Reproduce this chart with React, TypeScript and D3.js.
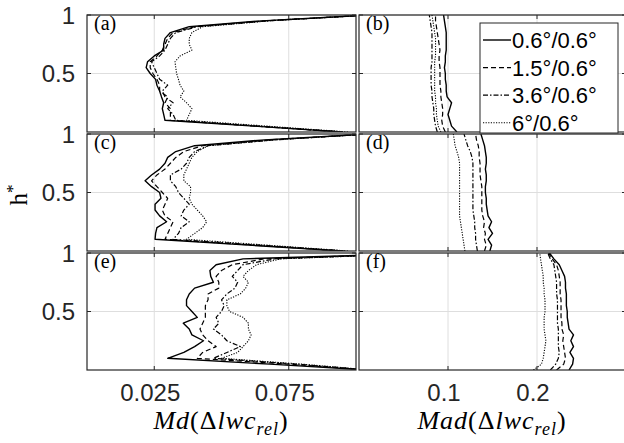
import React, { useRef, useEffect } from "react";
import * as d3 from "d3";

const W = 624;
const H = 443;

// normalized height levels (h*) shared by every profile
const hStar = [0, 0.05, 0.1, 0.15, 0.2, 0.25, 0.3, 0.35, 0.4, 0.45, 0.5, 0.55, 0.6, 0.65, 0.7, 0.75, 0.8, 0.85, 0.9, 0.95, 1];

const seriesLabels = ["0.6°/0.6°", "1.5°/0.6°", "3.6°/0.6°", "6°/0.6°"];
const seriesDash = ["none", "5,3", "5,2,1.5,2", "1.2,1.4"];
const seriesWidth = [1.4, 1.2, 1.2, 1.1];

const mdTicks = [0.025, 0.075];
const madTicks = [0.1, 0.2];
const hTicks = [0.5, 1];
const panelTags = ["(a)", "(b)", "(c)", "(d)", "(e)", "(f)"];

// Md(Δlwc_rel) profiles, rows = series
const mdA = [
  [0.095, 0.062, 0.029, 0.0285, 0.028, 0.0285, 0.0277, 0.027, 0.026, 0.0255, 0.0235, 0.022, 0.0225, 0.025, 0.0285, 0.0285, 0.029, 0.031, 0.038, 0.065, 0.105],
  [0.095, 0.063, 0.031, 0.031, 0.031, 0.029, 0.030, 0.027, 0.027, 0.026, 0.0245, 0.0235, 0.0235, 0.026, 0.028, 0.029, 0.030, 0.032, 0.040, 0.066, 0.105],
  [0.095, 0.064, 0.033, 0.032, 0.030, 0.032, 0.029, 0.028, 0.030, 0.027, 0.026, 0.025, 0.024, 0.027, 0.029, 0.030, 0.031, 0.033, 0.041, 0.067, 0.105],
  [0.097, 0.067, 0.037, 0.038, 0.039, 0.037, 0.0346, 0.036, 0.0346, 0.034, 0.0333, 0.033, 0.0327, 0.0346, 0.039, 0.038, 0.038, 0.039, 0.043, 0.068, 0.105],
];
const mdC = [
  [0.095, 0.060, 0.0253, 0.0255, 0.026, 0.0296, 0.027, 0.0253, 0.0253, 0.0275, 0.027, 0.024, 0.0216, 0.024, 0.027, 0.029, 0.030, 0.033, 0.040, 0.066, 0.105],
  [0.095, 0.062, 0.029, 0.030, 0.031, 0.032, 0.029, 0.028, 0.029, 0.030, 0.028, 0.026, 0.024, 0.026, 0.029, 0.031, 0.033, 0.036, 0.043, 0.068, 0.105],
  [0.096, 0.064, 0.032, 0.034, 0.035, 0.038, 0.035, 0.036, 0.038, 0.036, 0.034, 0.033, 0.031, 0.031, 0.035, 0.037, 0.038, 0.040, 0.045, 0.070, 0.105],
  [0.097, 0.067, 0.037, 0.040, 0.043, 0.0445, 0.043, 0.041, 0.039, 0.038, 0.0385, 0.0385, 0.036, 0.036, 0.037, 0.038, 0.039, 0.041, 0.045, 0.070, 0.105],
];
const mdE = [
  [0.105, 0.068, 0.030, 0.036, 0.040, 0.0433, 0.039, 0.038, 0.0358, 0.041, 0.039, 0.037, 0.037, 0.038, 0.040, 0.047, 0.046, 0.0457, 0.048, 0.058, 0.13],
  [0.105, 0.075, 0.041, 0.043, 0.048, 0.045, 0.043, 0.042, 0.043, 0.044, 0.044, 0.044, 0.045, 0.045, 0.049, 0.049, 0.048, 0.050, 0.054, 0.066, 0.13],
  [0.105, 0.078, 0.047, 0.052, 0.057, 0.052, 0.050, 0.047, 0.049, 0.048, 0.050, 0.051, 0.050, 0.052, 0.055, 0.056, 0.054, 0.056, 0.058, 0.070, 0.13],
  [0.105, 0.080, 0.050, 0.056, 0.058, 0.060, 0.061, 0.060, 0.060, 0.058, 0.053, 0.052, 0.052, 0.057, 0.059, 0.060, 0.058, 0.060, 0.063, 0.072, 0.13],
];

// Mad(Δlwc_rel) profiles, rows = series
const madB = [
  [0.110, 0.104, 0.102, 0.100, 0.102, 0.104, 0.099, 0.098, 0.098, 0.097, 0.097, 0.096, 0.097, 0.097, 0.098, 0.098, 0.098, 0.098, 0.097, 0.096, 0.095],
  [0.097, 0.094, 0.093, 0.094, 0.094, 0.093, 0.092, 0.092, 0.091, 0.091, 0.091, 0.091, 0.090, 0.090, 0.091, 0.090, 0.089, 0.088, 0.087, 0.086, 0.086],
  [0.088, 0.086, 0.085, 0.084, 0.084, 0.083, 0.082, 0.082, 0.081, 0.081, 0.081, 0.081, 0.082, 0.082, 0.082, 0.082, 0.082, 0.082, 0.081, 0.080, 0.079],
  [0.092, 0.089, 0.088, 0.087, 0.087, 0.086, 0.086, 0.085, 0.085, 0.085, 0.085, 0.085, 0.085, 0.086, 0.086, 0.086, 0.086, 0.085, 0.084, 0.083, 0.082],
];
const madD = [
  [0.147, 0.149, 0.145, 0.150, 0.146, 0.149, 0.145, 0.144, 0.143, 0.143, 0.142, 0.142, 0.143, 0.143, 0.142, 0.143, 0.143, 0.142, 0.141, 0.139, 0.137],
  [0.141, 0.143, 0.141, 0.142, 0.140, 0.141, 0.139, 0.138, 0.138, 0.138, 0.138, 0.138, 0.137, 0.136, 0.136, 0.136, 0.135, 0.135, 0.134, 0.132, 0.131],
  [0.133, 0.132, 0.131, 0.131, 0.130, 0.130, 0.129, 0.128, 0.128, 0.128, 0.128, 0.128, 0.128, 0.128, 0.128, 0.128, 0.127, 0.125, 0.122, 0.120, 0.118],
  [0.119, 0.118, 0.117, 0.116, 0.115, 0.114, 0.113, 0.113, 0.113, 0.113, 0.113, 0.113, 0.113, 0.113, 0.113, 0.113, 0.112, 0.110, 0.108, 0.107, 0.106],
];
const madF = [
  [0.236, 0.240, 0.241, 0.237, 0.241, 0.238, 0.241, 0.236, 0.235, 0.234, 0.234, 0.233, 0.233, 0.233, 0.232, 0.232, 0.231, 0.228, 0.225, 0.219, 0.214],
  [0.222, 0.230, 0.232, 0.231, 0.230, 0.229, 0.230, 0.228, 0.228, 0.227, 0.227, 0.227, 0.227, 0.226, 0.226, 0.226, 0.225, 0.224, 0.222, 0.217, 0.213],
  [0.215, 0.221, 0.224, 0.225, 0.224, 0.224, 0.224, 0.224, 0.223, 0.223, 0.223, 0.223, 0.223, 0.222, 0.222, 0.222, 0.221, 0.220, 0.219, 0.215, 0.212],
  [0.196, 0.205, 0.207, 0.208, 0.209, 0.210, 0.209, 0.208, 0.208, 0.208, 0.209, 0.209, 0.209, 0.208, 0.208, 0.207, 0.207, 0.206, 0.205, 0.204, 0.203],
];

const rowTops = [15, 134, 253];
const panelH = 117;
const colX = [
  [87, 356],
  [359, 626],
];
const frameColor = "#262626";
const sansFont = "'Liberation Sans', Arial, sans-serif";
const serifFont = "'Liberation Serif', 'Times New Roman', serif";

const App = () => {
  const svgRef = useRef<SVGSVGElement>(null);

  useEffect(() => {
    const svg = d3.select(svgRef.current);
    svg.selectAll("*").remove();

    const mdScale = d3.scaleLinear().domain([0, 0.1]).range(colX[0]);
    const madScale = d3.scaleLinear().domain([0, 0.3]).range(colX[1]);

    const panels = [
      { data: mdA, x: mdScale, ticks: mdTicks, row: 0, col: 0 },
      { data: madB, x: madScale, ticks: madTicks, row: 0, col: 1 },
      { data: mdC, x: mdScale, ticks: mdTicks, row: 1, col: 0 },
      { data: madD, x: madScale, ticks: madTicks, row: 1, col: 1 },
      { data: mdE, x: mdScale, ticks: mdTicks, row: 2, col: 0 },
      { data: madF, x: madScale, ticks: madTicks, row: 2, col: 1 },
    ];

    const defs = svg.append("defs");

    panels.forEach((p, i) => {
      const top = rowTops[p.row];
      const y = d3.scaleLinear().domain([0, 1]).range([top + panelH, top]);
      const [x0, x1] = colX[p.col];
      const g = svg.append("g");

      defs.append("clipPath").attr("id", `clip${i}`)
        .append("rect").attr("x", x0).attr("y", top).attr("width", x1 - x0).attr("height", panelH);

      g.append("rect").attr("x", x0).attr("y", top).attr("width", x1 - x0).attr("height", panelH).attr("fill", "#fff");

      // grid
      p.ticks.forEach((t) => {
        g.append("line").attr("x1", p.x(t)).attr("x2", p.x(t)).attr("y1", top).attr("y2", top + panelH)
          .attr("stroke", "#dedede").attr("stroke-width", 1);
      });
      hTicks.forEach((t) => {
        g.append("line").attr("x1", x0).attr("x2", x1).attr("y1", y(t)).attr("y2", y(t))
          .attr("stroke", "#dedede").attr("stroke-width", 1);
      });

      // profiles
      const line = d3.line<number>().x((d) => p.x(d)).y((_, k) => y(hStar[k]));
      const lg = g.append("g").attr("clip-path", `url(#clip${i})`);
      p.data.forEach((vals, s) => {
        lg.append("path").attr("d", line(vals) as string).attr("fill", "none")
          .attr("stroke", "#000").attr("stroke-width", seriesWidth[s])
          .attr("stroke-dasharray", seriesDash[s]).attr("stroke-linejoin", "round");
      });

      // frame + ticks
      g.append("rect").attr("x", x0).attr("y", top).attr("width", x1 - x0).attr("height", panelH)
        .attr("fill", "none").attr("stroke", frameColor).attr("stroke-width", 1.2);
      p.ticks.forEach((t) => {
        g.append("line").attr("x1", p.x(t)).attr("x2", p.x(t)).attr("y1", top + panelH).attr("y2", top + panelH - 4).attr("stroke", frameColor);
        g.append("line").attr("x1", p.x(t)).attr("x2", p.x(t)).attr("y1", top).attr("y2", top + 4).attr("stroke", frameColor);
      });
      hTicks.forEach((t) => {
        g.append("line").attr("x1", x0).attr("x2", x0 + 4).attr("y1", y(t)).attr("y2", y(t)).attr("stroke", frameColor);
        g.append("line").attr("x1", x1).attr("x2", x1 - 4).attr("y1", y(t)).attr("y2", y(t)).attr("stroke", frameColor);
      });

      // y tick labels (left column)
      if (p.col === 0) {
        hTicks.forEach((t) => {
          g.append("text").attr("x", x0 - 12).attr("y", y(t)).attr("dy", "0.36em")
            .attr("text-anchor", "end").style("font-family", sansFont).style("font-size", "24px")
            .attr("fill", frameColor).text(String(t));
        });
      }
      // x tick labels (bottom row)
      if (p.row === 2) {
        p.ticks.forEach((t) => {
          g.append("text").attr("x", p.x(t) - 4).attr("y", 401)
            .attr("text-anchor", "middle").style("font-family", sansFont).style("font-size", "24px")
            .attr("fill", frameColor).text(String(t));
        });
      }

      g.append("text").attr("x", x0 + 7).attr("y", top + 15)
        .style("font-family", serifFont).style("font-size", "20px").attr("fill", "#000")
        .text(panelTags[i]);
    });

    // axis labels
    const hLab = svg.append("text").attr("transform", "translate(27,195) rotate(-90)")
      .attr("text-anchor", "middle").style("font-family", serifFont).style("font-size", "25px");
    hLab.append("tspan").text("h");
    hLab.append("tspan").attr("dy", -9).style("font-size", "17px").text("*");

    const xLabel = (cx: number, name: string) => {
      const t = svg.append("text").attr("x", cx).attr("y", 429).attr("text-anchor", "middle")
        .style("font-family", serifFont).style("font-size", "26px").style("letter-spacing", "1px");
      t.append("tspan").style("font-style", "italic").text(name);
      t.append("tspan").text("(Δ");
      t.append("tspan").style("font-style", "italic").text("lwc");
      t.append("tspan").attr("dy", 6).style("font-style", "italic").style("font-size", "18px").text("rel");
      t.append("tspan").attr("dy", -6).text(")");
    };
    xLabel(221, "Md");
    xLabel(492, "Mad");

    // legend
    const lx = 480, ly = 23, lw = 138, lh = 110;
    const leg = svg.append("g");
    leg.append("rect").attr("x", lx).attr("y", ly).attr("width", lw).attr("height", lh)
      .attr("fill", "#fff").attr("stroke", frameColor).attr("stroke-width", 1);
    seriesLabels.forEach((lab, s) => {
      const cy = ly + 17 + s * 27.6;
      leg.append("line").attr("x1", lx + 3).attr("x2", lx + 31).attr("y1", cy).attr("y2", cy)
        .attr("stroke", "#000").attr("stroke-width", seriesWidth[s]).attr("stroke-dasharray", seriesDash[s]);
      leg.append("text").attr("x", lx + 32).attr("y", cy).attr("dy", "0.36em")
        .style("font-family", sansFont).style("font-size", "22px").attr("fill", "#000").text(lab);
    });
  }, []);

  return (
    <svg
      ref={svgRef}
      width={W}
      height={H}
      style={{ position: "absolute", left: 0, top: 0, background: "#fff" }}
    />
  );
};

export default App;
